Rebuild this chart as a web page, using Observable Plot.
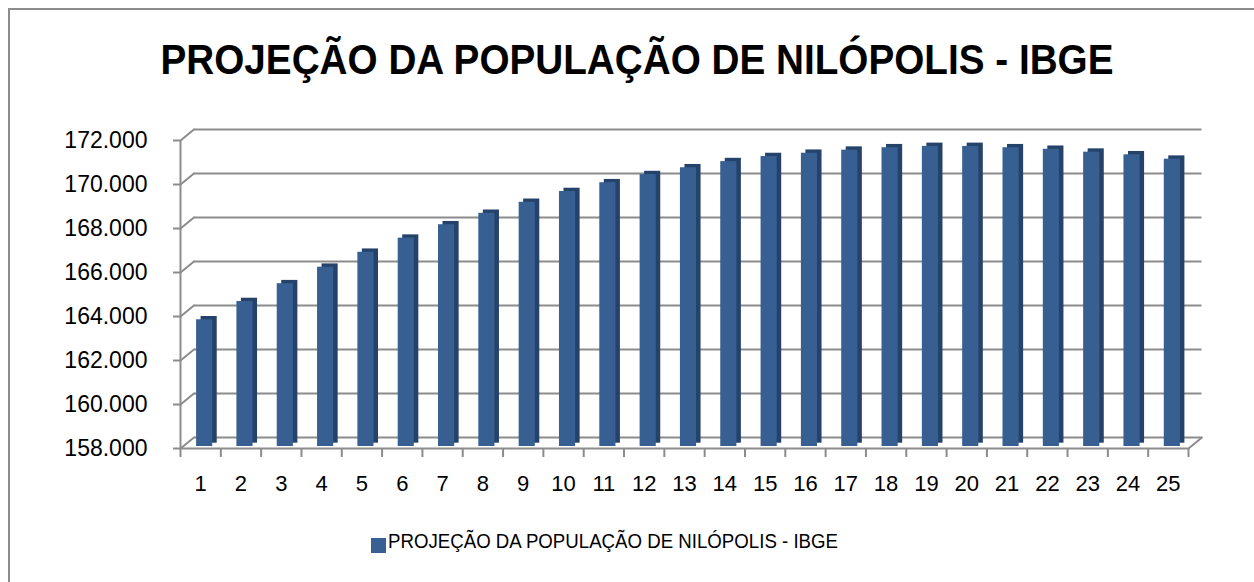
<!DOCTYPE html>
<html><head><meta charset="utf-8">
<script src="https://cdn.jsdelivr.net/npm/d3@7"></script>
<script src="https://cdn.jsdelivr.net/npm/@observablehq/plot@0.6"></script>
<style>
body{margin:0;background:#fff;}
#wrap{position:relative;width:1254px;height:582px;overflow:hidden;background:#fff;font-family:"Liberation Sans",Arial,sans-serif;color:#000;}
#frame{position:absolute;left:8px;top:8px;width:1400px;height:700px;border-left:2px solid #8c8c8c;border-top:2px solid #8c8c8c;z-index:5;pointer-events:none;}
#title{position:absolute;left:636.5px;top:39.4px;font-weight:bold;font-size:42px;line-height:42px;white-space:nowrap;transform-origin:0 0;}
#chart{position:absolute;left:0;top:100px;}
#lgsq{position:absolute;left:371px;top:538px;width:15px;height:15px;background:#3a5f92;}
#lgtx{position:absolute;left:388px;top:531px;font-size:20px;line-height:20px;white-space:nowrap;transform-origin:0 0;}
</style></head>
<body>
<div id="wrap">
  <div id="title"></div>
  <div id="chart"></div>
  <div id="lgsq"></div>
  <div id="lgtx"></div>
  <div id="frame"></div>
</div>
<script>
const titleText = "PROJEÇÃO DA POPULAÇÃO DE NILÓPOLIS - IBGE";
const seriesName = "PROJEÇÃO DA POPULAÇÃO DE NILÓPOLIS - IBGE";
const years = [1,2,3,4,5,6,7,8,9,10,11,12,13,14,15,16,17,18,19,20,21,22,23,24,25];
const xLabels = ["1","2","3","4","5","6","7","8","9","10","11","12","13","14","15","16","17","18","19","20","21","22","23","24","25"];
const values = [163760,164590,165400,166150,166830,167470,168080,168600,169100,169590,169990,170360,170670,170950,171180,171330,171470,171580,171640,171640,171580,171510,171380,171260,171060];
const yTicks = [158000,160000,162000,164000,166000,168000,170000,172000];
const yLabels = ["158.000","160.000","162.000","164.000","166.000","168.000","170.000","172.000"];

const data = years.map((n, i) => ({n, v: values[i]}));
const grid = "#8c8c8c";
const seg = {draw(ctx, l) { ctx.moveTo(0, 0); ctx.lineTo(0, -l); }};
const boundaries = d3.range(0, years.length + 1).map(i => i + 0.5);

const chart = Plot.plot({
  width: 1254, height: 400,
  marginLeft: 180, marginRight: 66, marginTop: 40, marginBottom: 52,
  style: {fontFamily: "Liberation Sans, Arial, sans-serif", background: "transparent", color: "black"},
  x: {type: "linear", domain: [0.5, 25.5], label: null},
  y: {domain: [158000, 172000], label: null},
  marks: [
    Plot.ruleY(yTicks, {x1: 0.5, x2: 25.5, dx: 13.5, dy: -11, stroke: grid, strokeWidth: 2}),
    Plot.vector(yTicks, {x: 0.5, y: d => d, length: 17.4, rotate: 50.8, anchor: "start", shape: seg, stroke: grid, strokeWidth: 2}),
    Plot.vector([158000], {x: 25.5, y: d => d, length: 17.4, rotate: 50.8, anchor: "start", shape: seg, stroke: grid, strokeWidth: 2}),
    Plot.ruleY([158000], {x1: 0.5, x2: 25.5, stroke: grid, strokeWidth: 2}),
    Plot.ruleX([0.5], {y1: 158000, y2: 172000, stroke: grid, strokeWidth: 2}),
    Plot.rect(data, {x1: d => d.n - 0.2, x2: d => d.n + 0.2, y1: 158000, y2: "v", fill: "#25436a", dx: 8.5, dy: -5.3}),
    Plot.rect(data, {x1: d => d.n - 0.2, x2: d => d.n + 0.2, y1: 158000, y2: "v", fill: "#375f92", dx: 4, dy: -2}),
    Plot.axisY({ticks: yTicks, label: null, tickSize: 7, tickPadding: 26, tickFormat: d => yLabels[yTicks.indexOf(d)], fontSize: 23, stroke: grid, strokeWidth: 2, fill: "black"}),
    Plot.axisX({ticks: boundaries, label: null, tickSize: 9, tickFormat: () => "", stroke: grid, strokeWidth: 2}),
    Plot.axisX({ticks: years, label: null, tickSize: 0, tickPadding: 27, fontSize: 22, tickFormat: d => xLabels[years.indexOf(d)], fill: "black"})
  ]
});
document.getElementById("chart").appendChild(chart);

const t = document.getElementById("title");
t.textContent = titleText;
const tw = t.getBoundingClientRect().width;
t.style.transform = `scaleX(${953 / tw}) translateX(-50%)`;

const l = document.getElementById("lgtx");
l.textContent = seriesName;
const lw = l.getBoundingClientRect().width;
l.style.transform = `scaleX(${450 / lw})`;
</script>
</body></html>
